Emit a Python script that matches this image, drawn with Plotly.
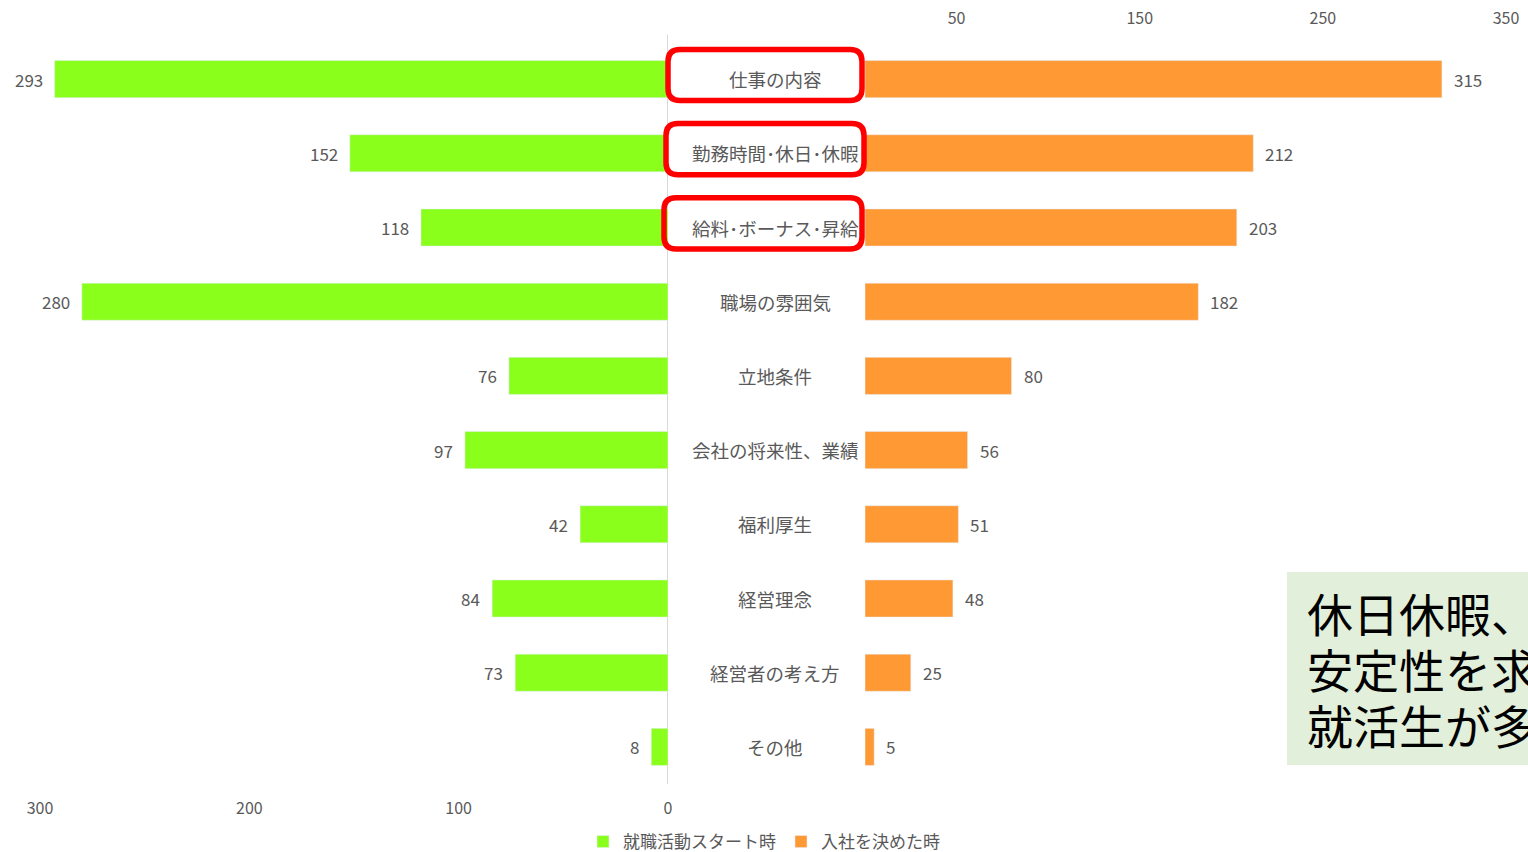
import plotly.graph_objects as go

categories = ["仕事の内容", "勤務時間･休日･休暇", "給料･ボーナス･昇給", "職場の雰囲気", "立地条件",
              "会社の将来性、業績", "福利厚生", "経営理念", "経営者の考え方", "その他"]
start_values = [293, 152, 118, 280, 76, 97, 42, 84, 73, 8]
decide_values = [315, 212, 203, 182, 80, 56, 51, 48, 25, 5]
series_names = ["就職活動スタート時", "入社を決めた時"]
left_ticks = [300, 200, 100, 0]
right_ticks = [50, 150, 250, 350]
highlighted = [0, 1, 2]
note_lines = ["休日休暇、", "安定性を求める", "就活生が多い"]

W, H = 1528, 852
FONT = "Noto Sans CJK JP, Noto Sans, sans-serif"
GRAY = "#595959"
GREEN = "#8aff1c"
ORANGE = "#ff9933"

fig = go.Figure()
fig.add_trace(go.Bar(
    y=categories, x=start_values, orientation="h", name=series_names[0],
    marker=dict(color=GREEN), width=0.5, xaxis="x", yaxis="y", cliponaxis=False,
))
fig.add_trace(go.Bar(
    y=categories, x=decide_values, orientation="h", name=series_names[1],
    marker=dict(color=ORANGE), width=0.5, xaxis="x2", yaxis="y", cliponaxis=False,
))

shapes = []
shapes.append(dict(type="line", xref="x", yref="paper", x0=0, x1=0, y0=0, y1=1.01,
                   line=dict(color="#d9d9d9", width=2), layer="below"))

def rounded_path(x0, x1, y0, y1, rx, ry):
    return (f"M {x0+rx},{y0} L {x1-rx},{y0} Q {x1},{y0} {x1},{y0+ry} "
            f"L {x1},{y1-ry} Q {x1},{y1} {x1-rx},{y1} L {x0+rx},{y1} "
            f"Q {x0},{y1} {x0},{y1-ry} L {x0},{y0+ry} Q {x0},{y0} {x0+rx},{y0} Z")

box_x = [(668, 862), (666, 864), (664, 862)]
for i, idx in enumerate(highlighted):
    x0, x1 = box_x[i][0] / W, box_x[i][1] / W
    shapes.append(dict(type="path", xref="paper", yref="y",
                       path=rounded_path(x0, x1, idx - 0.40, idx + 0.29, 12 / W, 12 / 74.2),
                       line=dict(color="#ff0000", width=5.5), fillcolor="rgba(0,0,0,0)"))

shapes.append(dict(type="rect", xref="paper", yref="paper",
                   x0=1287 / W, x1=1.02, y0=(784 - 765) / 742, y1=(784 - 572) / 742,
                   fillcolor="#e2efda", line=dict(width=0), layer="below"))

annotations = []
for c, v in zip(categories, start_values):
    annotations.append(dict(x=v, xref="x", y=c, yref="y", text=str(v), showarrow=False,
                            xanchor="right", xshift=-10,
                            font=dict(size=17, color=GRAY, family=FONT)))
for c, v in zip(categories, decide_values):
    annotations.append(dict(x=v, xref="x2", y=c, yref="y", text=str(v), showarrow=False,
                            xanchor="left", xshift=10,
                            font=dict(size=17, color=GRAY, family=FONT)))
for c in categories:
    annotations.append(dict(x=775 / W, xref="paper", y=c, yref="y", text=c, showarrow=False,
                            xanchor="center", font=dict(size=18.5, color=GRAY, family=FONT)))
for k, line in enumerate(note_lines):
    annotations.append(dict(x=1305 / W, xref="paper", y=(784 - (612 + 56 * k)) / 742, yref="paper",
                            text=line, showarrow=False, xanchor="left",
                            yanchor="middle", align="left",
                            font=dict(size=46, color="#000000", family=FONT)))

fig.update_layout(
    width=W, height=H,
    margin=dict(l=0, r=0, t=42, b=68, autoexpand=False),
    paper_bgcolor="white", plot_bgcolor="white",
    font=dict(family=FONT, color=GRAY),
    barmode="overlay",
    showlegend=True,
    legend=dict(orientation="h", x=0.5, xanchor="center", y=-(842 - 784) / 742, yanchor="middle",
                font=dict(size=17, color=GRAY, family=FONT),
                traceorder="normal"),
    xaxis=dict(domain=[40 / W, 668 / W], range=[300, 0], tickvals=left_ticks,
               showgrid=False, zeroline=False, showline=False, ticks="", automargin=False,
               tickfont=dict(size=16, color=GRAY), ticklabelstandoff=13, fixedrange=True),
    xaxis2=dict(domain=[865 / W, 1.0], range=[0, 362], tickvals=right_ticks, side="top",
                anchor="y", showgrid=False, zeroline=False, showline=False, ticks="",
                automargin=False,
                tickfont=dict(size=16, color=GRAY), ticklabelstandoff=14, fixedrange=True),
    yaxis=dict(categoryorder="array", categoryarray=categories, autorange="reversed",
               showticklabels=False, showgrid=False, zeroline=False, showline=False,
               automargin=False),
    shapes=shapes,
    annotations=annotations,
)

fig.write_html("out.html", config={"displayModeBar": False},
               post_script="document.body.style.margin='0';document.body.style.overflow='hidden';")
